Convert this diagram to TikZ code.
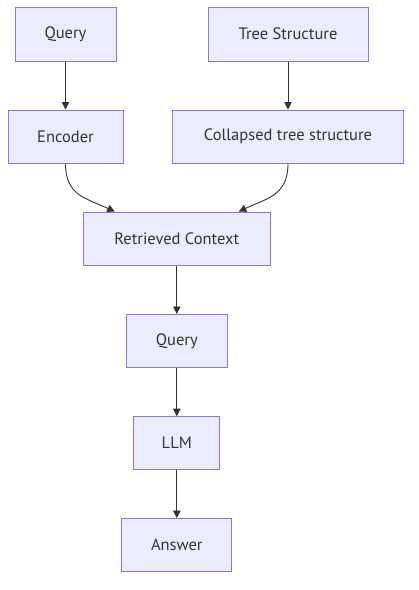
\documentclass[tikz,border=0pt]{standalone}
\usepackage{fontspec}
\setmainfont{PT Sans}
\usetikzlibrary{arrows.meta}
\definecolor{boxfill}{HTML}{ECECFF}
\definecolor{boxline}{HTML}{9370DB}
\definecolor{edgecol}{HTML}{333333}
\begin{document}
\begin{tikzpicture}[x=1pt,y=-1pt,
  box/.style={draw=boxline, fill=boxfill, line width=1pt, inner sep=0pt, text=edgecol, font=\fontsize{16.5}{19}\selectfont},
  link/.style={draw=edgecol, line width=0.9pt, -{Triangle[length=7.5pt,width=7.5pt]}}]
\useasboundingbox (0,0) rectangle (419,590);
\node[box, minimum width=101pt, minimum height=54pt] (q0) at (65.5,34) {Query};
\node[box, minimum width=160pt, minimum height=54pt] (ts) at (288,34) {Tree Structure};
\node[box, minimum width=115pt, minimum height=53pt] (enc) at (65.5,136.5) {Encoder};
\node[box, minimum width=231pt, minimum height=53pt] (cts) at (288,136.5) {Collapsed tree structure};
\node[box, minimum width=187pt, minimum height=53pt] (rc) at (176.8,238.5) {Retrieved Context};
\node[box, minimum width=101pt, minimum height=53pt] (q1) at (176.8,341) {Query};
\node[box, minimum width=86pt, minimum height=53pt] (llm) at (176.8,443.2) {LLM};
\node[box, minimum width=110pt, minimum height=53pt] (ans) at (176.8,545) {Answer};
\draw[link](q0) -- (enc);
\draw[link](ts) -- (cts);
\draw[link](enc.south) .. controls (65.5,195) and (85,198) .. ([xshift=32pt]rc.north west);
\draw[link](cts.south) .. controls (288,195) and (268,198) .. ([xshift=-32pt]rc.north east);
\draw[link](rc) -- (q1);
\draw[link](q1) -- (llm);
\draw[link](llm) -- (ans);

\end{tikzpicture}
\end{document}
